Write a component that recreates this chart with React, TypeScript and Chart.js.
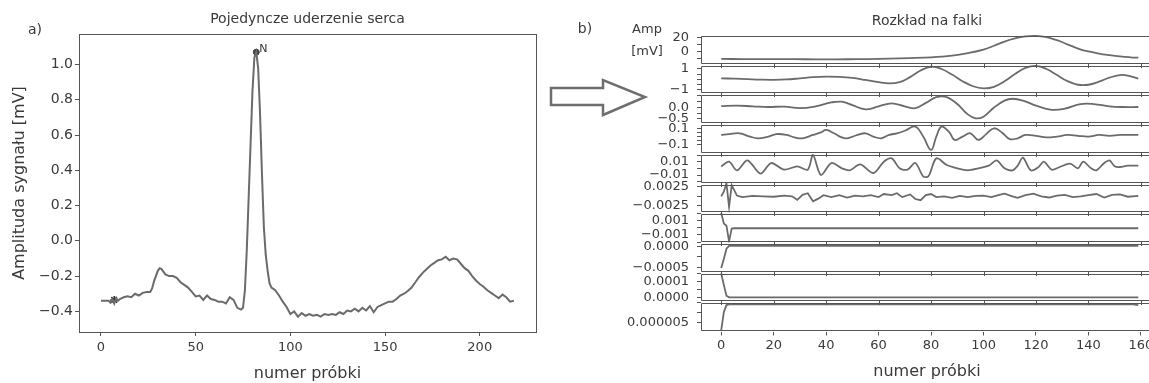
import React, { useEffect, useRef } from 'react';
import { Chart, registerables } from 'chart.js';

Chart.register(...registerables);

const FONT = 'DejaVu Sans';
const TEXT = '#3a3a3a';
const AXIS = '#555555';
const LINE = '#6b6b6b';

// ---------- panel a) : single heartbeat ----------
const ecgSample = [0, 2, 4, 5, 6, 7, 8, 9, 10, 12, 14, 16, 18, 20, 22, 24, 26, 27, 28, 30, 31, 32, 34, 36, 38, 40, 42, 44, 46, 48, 50, 52, 54, 56, 58, 60, 62, 64, 66, 68, 70, 72, 74, 75, 76, 77, 78, 79, 80, 81, 82, 83, 84, 85, 86, 87, 88, 89, 90, 92, 94, 96, 98, 100, 102, 104, 106, 108, 110, 112, 114, 116, 118, 120, 122, 124, 126, 128, 130, 132, 134, 136, 138, 140, 142, 144, 146, 148, 150, 152, 154, 156, 158, 160, 162, 164, 166, 168, 170, 172, 174, 176, 178, 180, 182, 184, 186, 188, 190, 192, 194, 196, 198, 200, 202, 204, 206, 208, 210, 212, 214, 216, 218];
const ecgAmp = [-0.34, -0.34, -0.34, -0.35, -0.33, -0.355, -0.325, -0.34, -0.33, -0.32, -0.315, -0.32, -0.3, -0.31, -0.295, -0.29, -0.29, -0.27, -0.23, -0.17, -0.155, -0.16, -0.19, -0.2, -0.2, -0.21, -0.235, -0.25, -0.265, -0.29, -0.315, -0.31, -0.335, -0.31, -0.33, -0.335, -0.345, -0.345, -0.355, -0.32, -0.335, -0.38, -0.39, -0.38, -0.28, -0.05, 0.25, 0.55, 0.85, 1.04, 1.07, 0.98, 0.72, 0.38, 0.08, -0.08, -0.17, -0.24, -0.265, -0.28, -0.31, -0.345, -0.375, -0.415, -0.4, -0.43, -0.41, -0.425, -0.415, -0.425, -0.42, -0.43, -0.415, -0.42, -0.415, -0.42, -0.405, -0.415, -0.395, -0.4, -0.385, -0.4, -0.38, -0.395, -0.37, -0.405, -0.375, -0.365, -0.355, -0.345, -0.345, -0.33, -0.31, -0.3, -0.285, -0.265, -0.235, -0.205, -0.18, -0.16, -0.14, -0.125, -0.11, -0.105, -0.09, -0.11, -0.1, -0.105, -0.13, -0.155, -0.17, -0.2, -0.225, -0.245, -0.26, -0.28, -0.295, -0.31, -0.325, -0.305, -0.32, -0.345, -0.34];
const rPeak = { sample: 82, amp: 1.07, label: 'N' };
const startMark = { sample: 7, amp: -0.335 };
const leftXTicks = [0, 50, 100, 150, 200];
const leftYTicks = [-0.4, -0.2, 0, 0.2, 0.4, 0.6, 0.8, 1.0];
const leftXRange = [-11.6, 229.7];
const leftYRange = [-0.517, 1.173];

// ---------- panel b) : wavelet decomposition ----------
const band1: number[][] = [[0, -10.4], [8, -10.5], [16, -10.6], [24, -10.7], [32, -10.8], [40, -10.9], [48, -10.8], [56, -10.5], [64, -10.0], [72, -9.2], [80, -8.0], [88, -5.5], [94, -2.0], [100, 3.0], [104, 8.5], [108, 14.5], [112, 19.0], [116, 21.8], [120, 22.5], [124, 20.8], [128, 16.5], [132, 10.5], [136, 4.5], [140, 0.3], [144, -2.8], [148, -5.0], [152, -6.8], [156, -8.0], [159, -8.6]];
const band2: number[][] = [[0, 0.08], [5, 0.05], [10, 0.0], [15, -0.05], [20, -0.07], [25, -0.03], [30, 0.08], [35, 0.2], [40, 0.25], [45, 0.22], [50, 0.12], [55, -0.08], [60, -0.3], [64, -0.42], [68, -0.3], [72, 0.2], [76, 0.85], [80, 1.22], [84, 1.0], [88, 0.45], [92, -0.2], [96, -0.7], [100, -0.9], [104, -0.75], [108, -0.2], [112, 0.5], [116, 1.1], [120, 1.3], [124, 1.0], [128, 0.4], [132, -0.2], [136, -0.55], [140, -0.55], [144, -0.25], [148, 0.15], [152, 0.4], [155, 0.35], [159, 0.05]];
const band3: number[][] = [[0, 0.06], [6, 0.08], [12, 0.05], [18, 0.02], [24, 0.04], [30, -0.03], [36, 0.05], [42, 0.22], [46, 0.25], [50, 0.1], [55, -0.08], [60, 0.05], [65, 0.18], [70, 0.05], [74, -0.03], [78, 0.2], [82, 0.45], [86, 0.45], [90, 0.15], [94, -0.3], [97, -0.47], [100, -0.4], [104, 0.0], [108, 0.3], [111, 0.38], [115, 0.3], [120, 0.08], [126, -0.1], [131, -0.05], [137, 0.15], [142, 0.15], [148, 0.05], [153, 0.02], [159, 0.02]];
const band4: number[][] = [[0, 0.02], [3, 0.03], [7, 0.04], [11, 0.0], [14, -0.02], [18, 0.0], [21, 0.03], [25, 0.02], [28, -0.01], [31, -0.02], [35, 0.02], [38, 0.05], [40, 0.08], [43, 0.04], [46, -0.01], [48, -0.02], [52, 0.02], [55, 0.04], [58, 0.0], [61, -0.02], [64, 0.02], [67, 0.04], [70, 0.07], [74, 0.12], [77, 0.0], [80, -0.16], [82, 0.0], [84, 0.12], [87, 0.05], [89, -0.04], [92, 0.0], [95, 0.04], [98, -0.04], [101, 0.03], [104, 0.1], [107, 0.05], [110, -0.03], [113, -0.02], [116, 0.02], [120, 0.01], [124, -0.01], [128, 0.0], [132, 0.02], [136, 0.01], [140, 0.0], [144, 0.02], [148, 0.01], [152, 0.02], [156, 0.02], [159, 0.02]];
const band5: number[][] = [[0, 0.003], [3, 0.01], [6, -0.003], [10, 0.012], [15, -0.008], [19, 0.008], [24, -0.002], [29, 0.003], [33, -0.002], [35, 0.02], [38, -0.01], [42, 0.008], [46, 0.0], [49, -0.003], [53, 0.006], [58, -0.007], [62, 0.01], [65, 0.015], [68, 0.0], [71, -0.002], [74, 0.008], [77, -0.012], [79, -0.012], [82, 0.015], [86, 0.005], [90, 0.0], [94, -0.003], [98, 0.0], [102, 0.004], [105, 0.012], [108, 0.0], [111, -0.003], [113, 0.004], [115, 0.016], [118, -0.003], [121, 0.002], [123, 0.01], [126, -0.002], [129, 0.002], [133, 0.007], [136, 0.0], [138, 0.01], [141, 0.0], [143, -0.003], [146, 0.008], [148, 0.012], [150, 0.003], [152, 0.002], [155, 0.004], [159, 0.004]];
const band6: number[][] = [[0, 0.0], [1, 0.0012], [2, 0.0034], [3, -0.0027], [4, 0.0029], [6, 0.0002], [8, -0.0002], [12, 0.0001], [16, 0.0], [20, -0.0001], [24, 0.0002], [27, 0.0], [29, -0.0009], [31, 0.0004], [33, 0.0008], [35, -0.0013], [37, -0.0006], [39, 0.0003], [42, -0.0002], [45, 0.0003], [48, -0.0003], [51, 0.0002], [54, 0.0], [57, 0.0003], [60, -0.0002], [62, 0.0006], [65, 0.0003], [67, 0.0008], [69, -0.0002], [72, 0.0005], [74, -0.0007], [76, -0.001], [78, 0.0003], [80, 0.0006], [82, -0.0002], [85, 0.0], [88, -0.0004], [91, 0.0001], [94, -0.0002], [97, 0.0001], [100, 0.0002], [103, -0.0002], [106, 0.0004], [108, 0.0007], [111, 0.0], [113, -0.0004], [116, 0.0003], [119, 0.0007], [122, 0.0], [125, -0.0003], [128, 0.0002], [131, 0.0004], [134, -0.0002], [137, 0.0], [140, 0.0003], [143, 0.0006], [146, -0.0003], [149, 0.0004], [152, 0.0005], [155, -0.0001], [159, 0.0001]];
const band7: number[][] = [[0, 0.0021], [1, 0.0006], [2, 0.0003], [3, -0.0019], [4, -0.0001], [5, -0.00006], [159, -0.00006]];
const band8: number[][] = [[0, -0.00052], [1, -0.0003], [2, -0.00005], [3, 0.00002], [159, 0.00002]];
const band9: number[][] = [[0, 0.000154], [1, 0.00008], [2, 0.00001], [3, 0.0], [159, 0.0]];
const band10: number[][] = [[0, 0.000003], [1, 0.0000075], [2, 0.0000093], [3, 0.0000095], [157, 0.0000095], [159, 0.0000093]];
const bands = [band1, band2, band3, band4, band5, band6, band7, band8, band9, band10];

const bandMin = [-17.9, -1.45, -0.7, -0.2, -0.022, -0.00424, -0.00204, -0.000617, -0.0000288, 0.0000027];
const bandMax = [24.6, 1.47, 0.59, 0.156, 0.0226, 0.00346, 0.00212, 0.000104, 0.000162, 0.000010125];
const bandTicks = [[0, 20], [-1, 1], [-0.5, 0], [-0.1, 0.1], [-0.01, 0.01], [-0.0025, 0.0025], [-0.001, 0.001], [-0.0005, 0], [0, 0.0001], [0.000005]];
const bandTickText = [['0', '20'], ['\u22121', '1'], ['\u22120.5', '0.0'], ['\u22120.1', '0.1'], ['\u22120.01', '0.01'], ['\u22120.0025', '0.0025'], ['\u22120.001', '0.001'], ['\u22120.0005', '0.0000'], ['0.0000', '0.0001'], ['0.000005']];
const bandMinorTicks = [[-10, 10], [-0.5, 0, 0.5], [-0.25, 0.25, 0.5], [-0.05, 0, 0.05], [-0.02, 0, 0.02], [0], [-0.002, 0, 0.002], [-0.00025], [0.00005, 0.00015], [0.0000075, 0.00001]];
const bandTension = [0.4, 0.4, 0.4, 0.4, 0.3, 0, 0, 0, 0, 0];
const rightXTicks = [0, 20, 40, 60, 80, 100, 120, 140, 160];
const rightXRange = [-7.7, 164.6];

const bandIds = bands.map((_, i) => 'y' + i);

const tickFont = { family: FONT, size: 13 };
const leftYTickFont = { family: FONT, size: 14 };
const titleFont = { family: FONT, size: 14, weight: 'normal' as const };
const labelFont = { family: FONT, size: 16, weight: 'normal' as const };

const leftDecor = {
  id: 'leftDecor',
  afterDatasetsDraw(chart: any) {
    const { ctx, chartArea, scales } = chart;
    ctx.save();
    ctx.strokeStyle = AXIS;
    ctx.lineWidth = 1;
    ctx.strokeRect(Math.round(chartArea.left) + 0.5, Math.round(chartArea.top) + 0.5, Math.round(chartArea.right - chartArea.left), Math.round(chartArea.bottom - chartArea.top));
    const px = scales.x.getPixelForValue(rPeak.sample);
    const py = scales.y.getPixelForValue(rPeak.amp);
    ctx.fillStyle = '#333';
    ctx.font = `11px "${FONT}"`;
    ctx.textAlign = 'left';
    ctx.textBaseline = 'bottom';
    ctx.fillText(rPeak.label, px + 3, py + 2);
    ctx.font = `14px "${FONT}"`;
    ctx.textAlign = 'center';
    ctx.textBaseline = 'middle';
    ctx.fillStyle = TEXT;
    ctx.fillText('a)', 35, 30);
    ctx.restore();
  },
};

const rightDecor = {
  id: 'rightDecor',
  afterDatasetsDraw(chart: any) {
    const { ctx, chartArea, scales } = chart;
    const xs = scales.x;
    ctx.save();
    ctx.strokeStyle = AXIS;
    ctx.lineWidth = 1;
    const left = Math.round(chartArea.left) + 0.5;
    let lowest = '';
    let lowestBottom = -1;
    bandIds.forEach((id) => {
      if (scales[id].bottom > lowestBottom) { lowestBottom = scales[id].bottom; lowest = id; }
    });
    bandIds.forEach((id) => {
      const s = scales[id];
      const top = Math.round(s.top + 1.5) + 0.5;
      const bot = Math.round(s.bottom - 1.5) + 0.5;
      ctx.beginPath();
      ctx.moveTo(chartArea.right, top);
      ctx.lineTo(left, top);
      ctx.lineTo(left, bot);
      ctx.lineTo(chartArea.right, bot);
      if (id !== lowest) {
        rightXTicks.forEach((v) => {
          const p = Math.round(xs.getPixelForValue(v)) + 0.5;
          if (p <= chartArea.right) {
            ctx.moveTo(p, bot);
            ctx.lineTo(p, bot + 4.5);
          }
        });
      }
      ctx.stroke();
    });
    ctx.fillStyle = TEXT;
    ctx.font = `14px "${FONT}"`;
    ctx.textAlign = 'center';
    ctx.textBaseline = 'middle';
    ctx.fillText('b)', 25, 29);
    ctx.font = `13px "${FONT}"`;
    ctx.fillText('Amp', 87, 30);
    ctx.fillText('[mV]', 87, 52);
    ctx.restore();
  },
};

function leftConfig(): any {
  return {
    type: 'line',
    data: {
      datasets: [
        {
          data: ecgSample.map((x, i) => ({ x, y: ecgAmp[i] })),
          borderColor: LINE,
          borderWidth: 2,
          pointRadius: 0,
          tension: 0,
        },
        {
          type: 'scatter',
          data: [{ x: rPeak.sample, y: rPeak.amp }],
          pointRadius: 3,
          backgroundColor: '#444',
          borderColor: '#444',
        },
        {
          type: 'scatter',
          data: [{ x: startMark.sample, y: startMark.amp }],
          pointStyle: 'star',
          pointRadius: 4,
          borderColor: '#333',
          borderWidth: 1.5,
        },
      ],
    },
    options: {
      animation: false,
      responsive: true,
      maintainAspectRatio: false,
      layout: { padding: { left: 0, right: 46, top: 0, bottom: 0 } },
      plugins: {
        legend: { display: false },
        tooltip: { enabled: false },
        title: {
          display: true,
          text: 'Pojedyncze uderzenie serca',
          font: titleFont,
          color: TEXT,
          fullSize: false,
          padding: { top: 10.6, bottom: 6.6 },
        },
      },
      scales: {
        x: {
          type: 'linear',
          min: leftXRange[0],
          max: leftXRange[1],
          afterBuildTicks: (s: any) => { s.ticks = leftXTicks.map((v) => ({ value: v })); },
          afterFit: (s: any) => { s.height = 51; s.paddingLeft = 0; s.paddingRight = 0; },
          ticks: { font: tickFont, color: TEXT, padding: 4, maxRotation: 0, autoSkip: false, callback: (v: number) => String(v) },
          grid: { drawOnChartArea: false, tickLength: 4, color: AXIS },
          border: { display: false },
          title: { display: true, text: 'numer próbki', font: labelFont, color: TEXT, padding: { top: 0, bottom: 0 } },
        },
        y: {
          type: 'linear',
          min: leftYRange[0],
          max: leftYRange[1],
          afterBuildTicks: (s: any) => { s.ticks = leftYTicks.map((v) => ({ value: v })); },
          afterFit: (s: any) => { s.width = 79; },
          ticks: {
            font: leftYTickFont, color: TEXT, padding: 2, autoSkip: false,
            callback: (v: number) => (Math.abs(v) < 1e-9 ? '0.0' : v.toFixed(1)).replace('-', '\u2212'),
          },
          grid: { drawOnChartArea: false, tickLength: 4, color: AXIS },
          border: { display: false },
          title: { display: true, text: 'Amplituda sygnału [mV]', font: labelFont, color: TEXT, padding: { top: 10.4, bottom: 0 } },
        },
      },
    },
    plugins: [leftDecor],
  };
}

function rightConfig(): any {
  const scales: any = {
    x: {
      type: 'linear',
      position: 'bottom',
      min: rightXRange[0],
      max: rightXRange[1],
      afterBuildTicks: (s: any) => { s.ticks = rightXTicks.map((v) => ({ value: v })); },
      afterFit: (s: any) => { s.height = 51.5; s.paddingLeft = 0; s.paddingRight = 0; },
      ticks: { font: tickFont, color: TEXT, padding: 2, maxRotation: 0, autoSkip: false, callback: (v: number) => String(v) },
      grid: { drawOnChartArea: false, tickLength: 4, color: AXIS },
      border: { display: false },
      title: { display: true, text: 'numer próbki', font: labelFont, color: TEXT, padding: { top: 0, bottom: 1.4 } },
    },
  };
  // stacked axes are laid out bottom-up, so register the lowest band first
  for (let i = bandIds.length - 1; i >= 0; i--) {
    const id = bandIds[i];
    scales[id] = {
      type: 'linear',
      position: 'left',
      stack: 'bands',
      stackWeight: 1,
      offset: false,
      min: bandMin[i],
      max: bandMax[i],
      afterBuildTicks: (s: any) => {
        const vals = [...bandTicks[i], ...bandMinorTicks[i]].sort((a, b) => a - b);
        s.ticks = vals.map((v) => ({ value: v }));
      },
      afterFit: (s: any) => { s.width = 141; },
      ticks: {
        font: tickFont,
        color: TEXT,
        padding: 8,
        autoSkip: false,
        callback: (v: number) => {
          const j = bandTicks[i].findIndex((t) => Math.abs(t - v) < 1e-12);
          return j >= 0 ? bandTickText[i][j] : '';
        },
      },
      grid: { drawOnChartArea: false, tickLength: 4, color: AXIS },
      border: { display: false },
    };
  }
  return {
    type: 'line',
    data: {
      datasets: bands.map((b, i) => ({
        data: b.map((p) => ({ x: p[0], y: p[1] })),
        yAxisID: bandIds[i],
        xAxisID: 'x',
        borderColor: LINE,
        borderWidth: 1.8,
        pointRadius: 0,
        tension: bandTension[i],
      })),
    },
    options: {
      animation: false,
      responsive: true,
      maintainAspectRatio: false,
      layout: { padding: 0 },
      plugins: {
        legend: { display: false },
        tooltip: { enabled: false },
        title: {
          display: true,
          text: 'Rozkład na falki',
          font: titleFont,
          color: TEXT,
          fullSize: false,
          padding: { top: 12.6, bottom: 5.1 },
        },
      },
      scales,
    },
    plugins: [rightDecor],
  };
}

export default function App() {
  const leftRef = useRef<HTMLCanvasElement>(null);
  const rightRef = useRef<HTMLCanvasElement>(null);
  useEffect(() => {
    const l = new Chart(leftRef.current as HTMLCanvasElement, leftConfig());
    const r = new Chart(rightRef.current as HTMLCanvasElement, rightConfig());
    return () => {
      l.destroy();
      r.destroy();
    };
  }, []);
  return (
    <div style={{ position: 'fixed', left: 0, top: 0, width: 1149, height: 383, background: '#fff', overflow: 'hidden' }}>
      <div style={{ position: 'absolute', left: 0, top: 0, width: 582, height: 383 }}>
        <canvas ref={leftRef} />
      </div>
      <div style={{ position: 'absolute', left: 560, top: 0, width: 593, height: 383 }}>
        <canvas ref={rightRef} />
      </div>
      <svg width={1149} height={383} style={{ position: 'absolute', left: 0, top: 0, pointerEvents: 'none' }}>
        <polygon
          points="551,88 603,88 603,80 645,97 603,115 603,105 551,105"
          fill="#fff"
          stroke="#6e6e6e"
          strokeWidth={2.5}
          strokeLinejoin="miter"
        />
      </svg>
    </div>
  );
}
